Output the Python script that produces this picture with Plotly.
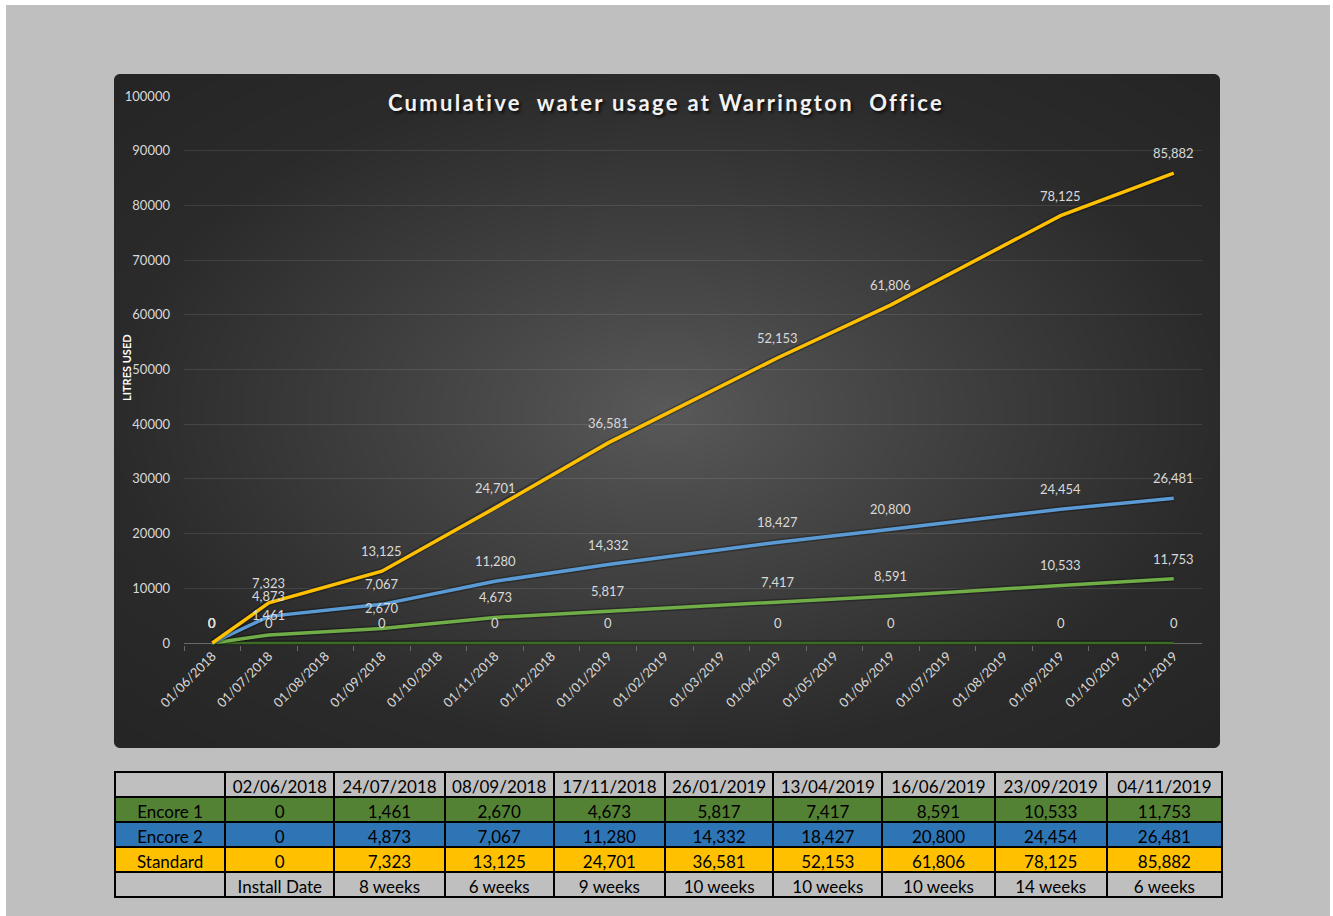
import base64
import struct
import zlib

import numpy as np
import plotly.graph_objects as go

# ---------------- data ----------------
dates = ["02/06/2018", "24/07/2018", "08/09/2018", "17/11/2018", "26/01/2019",
         "13/04/2019", "16/06/2019", "23/09/2019", "04/11/2019"]
encore1 = [0, 1461, 2670, 4673, 5817, 7417, 8591, 10533, 11753]
encore2 = [0, 4873, 7067, 11280, 14332, 18427, 20800, 24454, 26481]
standard = [0, 7323, 13125, 24701, 36581, 52153, 61806, 78125, 85882]
intervals = ["Install Date", "8 weeks", "6 weeks", "9 weeks", "10 weeks",
             "10 weeks", "10 weeks", "14 weeks", "6 weeks"]
interval_values = [0, 0, 0, 0, 0, 0, 0, 0, 0]  # text row plotted as zeros
axis_months = ["01/06/2018", "01/07/2018", "01/08/2018", "01/09/2018", "01/10/2018",
               "01/11/2018", "01/12/2018", "01/01/2019", "01/02/2019", "01/03/2019",
               "01/04/2019", "01/05/2019", "01/06/2019", "01/07/2019", "01/08/2019",
               "01/09/2019", "01/10/2019", "01/11/2019"]
y_ticks = [0, 10000, 20000, 30000, 40000, 50000, 60000, 70000, 80000, 90000, 100000]

title_text = "Cumulative\u00a0\u00a0water usage at Warrington\u00a0\u00a0Office"

# ---------------- geometry helpers ----------------
FW, FH = 1333, 916


def fx(px):
    return px / FW


def fy(py):
    return 1 - py / FH


# plot area in pixels
PL, PR, PT = 184, 1202, 96
Y0PX = 643  # pixel of value 0
YMIN = -400
y_scale = (Y0PX - PT) / 100000.0
PB = Y0PX + (-YMIN) * y_scale

# point x categories (month buckets, like Excel's month base unit)
x_pts = ["01/" + d[3:] for d in dates]

# ---------------- gradient panel image ----------------
PW, PH = 1106, 674
yy, xx = np.mgrid[0:PH, 0:PW].astype(float)
cx, cy = PW * 0.5, PH * 0.5
d = np.sqrt(((xx - cx) / (PW / 2)) ** 2 + ((yy - cy) / (PH / 2)) ** 2)
c0, c1 = 0x5a, 0x2b
v = c0 - (c0 - c1) * np.clip(d, 0, 1) ** 0.9
v = np.where(d > 1, c1 - 6 * (d - 1) / 0.414, v)
v = np.clip(v, 0x25, 0xff)
rad = 6.0
alpha = np.ones((PH, PW))
for (ccx, ccy) in [(rad, rad), (PW - rad, rad), (rad, PH - rad), (PW - rad, PH - rad)]:
    mx = ((xx < rad) if ccx == rad else (xx > PW - rad))
    my = ((yy < rad) if ccy == rad else (yy > PH - rad))
    dist = np.sqrt((xx + 0.5 - ccx) ** 2 + (yy + 0.5 - ccy) ** 2)
    a = np.clip(rad + 0.5 - dist, 0, 1)
    alpha = np.where(mx & my, a, alpha)
img = np.zeros((PH, PW, 4), dtype=np.uint8)
img[..., 0] = v.astype(np.uint8)
img[..., 1] = v.astype(np.uint8)
img[..., 2] = v.astype(np.uint8)
img[..., 3] = (alpha * 255).astype(np.uint8)


def png_bytes(arr):
    h, w = arr.shape[:2]
    raw = b"".join(b"\x00" + arr[r].tobytes() for r in range(h))

    def chunk(t, data):
        return (struct.pack(">I", len(data)) + t + data +
                struct.pack(">I", zlib.crc32(t + data) & 0xffffffff))

    return (b"\x89PNG\r\n\x1a\n" +
            chunk(b"IHDR", struct.pack(">IIBBBBB", w, h, 8, 6, 0, 0, 0)) +
            chunk(b"IDAT", zlib.compress(raw, 9)) +
            chunk(b"IEND", b""))


panel_src = "data:image/png;base64," + base64.b64encode(png_bytes(img)).decode()

# ---------------- figure ----------------
fig = go.Figure()

series = [
    ("Interval", interval_values, "#3b6b24", 2.5),
    ("Encore 1", encore1, "#70ad47", 3.5),
    ("Encore 2", encore2, "#5b9bd5", 3.5),
    ("Standard", standard, "#ffc000", 3.5),
]

for name, vals, col, w in series:
    fig.add_trace(go.Scatter(x=x_pts, y=vals, mode="lines",
                             line=dict(color="rgba(0,0,0,0.28)", width=w + 3),
                             hoverinfo="skip", showlegend=False))
    fig.add_trace(go.Scatter(x=x_pts, y=vals, mode="lines", name=name,
                             line=dict(color=col, width=w), showlegend=False))

label_font = dict(family="Lato", size=13, color="#d9d9d9")
annotations = []
for name, vals, col, w in series:
    for i, val in enumerate(vals):
        annotations.append(dict(
            x=x_pts[i], y=val, xref="x", yref="y", text=f"{val:,}",
            showarrow=False, yshift=20, font=label_font))

annotations.append(dict(
    x=fx(126), y=fy(368), xref="paper", yref="paper", text="<b>LITRES USED</b>",
    textangle=-90, showarrow=False, xanchor="center", yanchor="middle",
    font=dict(family="Lato", size=11, color="#ffffff")))

# table
row_colors = ["#548235", "#2e75b6", "#ffc000", "#bfbfbf"]
col_values = [["Encore 1", "Encore 2", "Standard", ""]]
for i in range(len(dates)):
    col_values.append([f"{encore1[i]:,}", f"{encore2[i]:,}", f"{standard[i]:,}", intervals[i]])
col_widths = [110, 109, 110, 109, 111, 108, 109, 112, 112, 115]

fig.add_trace(go.Table(
    domain=dict(x=[fx(115), fx(1222)], y=[fy(899), fy(772)]),
    columnwidth=col_widths,
    header=dict(values=[""] + dates, fill_color="#bfbfbf",
                line=dict(color="black", width=2), align="center", height=25,
                font=dict(family="Lato", size=17, color="black")),
    cells=dict(values=col_values, fill=dict(color=[row_colors] * len(col_values)),
               line=dict(color="black", width=2), align="center", height=25,
               font=dict(family="Lato", size=17, color="black")),
))

shapes = [
    dict(type="rect", xref="paper", yref="paper", x0=0, x1=fx(6), y0=0, y1=1,
         fillcolor="white", line_width=0, layer="below"),
    dict(type="rect", xref="paper", yref="paper", x0=0, x1=1, y0=fy(5), y1=1,
         fillcolor="white", line_width=0, layer="below"),
    dict(type="rect", xref="paper", yref="paper", x0=fx(1330), x1=1, y0=0, y1=1,
         fillcolor="white", line_width=0, layer="below"),
]

fig.update_layout(
    width=FW, height=FH,
    autosize=False,
    margin=dict(l=0, r=0, t=0, b=0, pad=0, autoexpand=False),
    paper_bgcolor="#bfbfbf",
    plot_bgcolor="rgba(0,0,0,0)",
    showlegend=False,
    title=dict(text="<b><span style='letter-spacing:2.3px'>" + title_text + "</span></b>",
               xref="paper", yref="paper", automargin=False,
               x=fx(666), y=fy(103), xanchor="center", yanchor="middle",
               font=dict(family="Lato", size=22, color="#f2f2f2",
                         shadow="2px 2px 3px rgba(0,0,0,0.75)")),
    xaxis=dict(domain=[fx(PL), fx(PR)], type="category", categoryorder="array",
               categoryarray=axis_months, tickvals=axis_months, range=[-0.5, 17.5],
               automargin=False,
               showgrid=False, showline=False, zeroline=False,
               ticks="outside", tickson="boundaries", ticklen=5, tickcolor="#6a6a6a",
               tickangle=-45, tickfont=dict(family="Lato", size=13, color="#d9d9d9"),
               layer="below traces", fixedrange=True),
    yaxis=dict(domain=[fy(PB), fy(PT)], range=[YMIN, 100000], tickvals=y_ticks,
               automargin=False,
               tickformat="d", showgrid=True, gridcolor="rgba(255,255,255,0.10)",
               gridwidth=1, zeroline=True, zerolinecolor="#6a6a6a", zerolinewidth=1,
               showline=False, ticks="", ticklabelstandoff=13,
               tickfont=dict(family="Lato", size=13, color="#d9d9d9"),
               layer="below traces", fixedrange=True),
    annotations=annotations,
    shapes=shapes,
    images=[dict(source=panel_src, xref="paper", yref="paper",
                 x=fx(114), y=fy(74), sizex=PW / FW, sizey=PH / FH,
                 xanchor="left", yanchor="top", sizing="stretch", layer="below")],
)

fig.write_html("out.html", config={"displayModeBar": False},
               post_script="document.body.style.margin='0';")
